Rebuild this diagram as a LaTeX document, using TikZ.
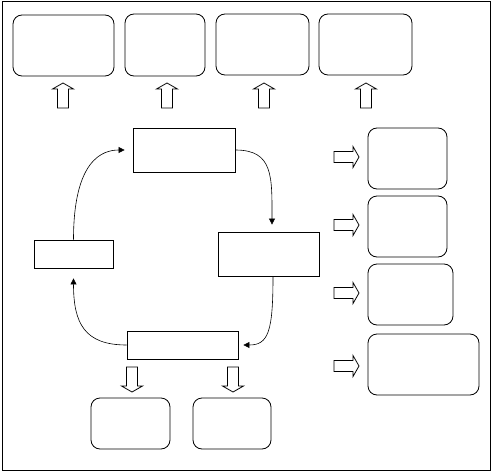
\documentclass[tikz,border=0pt]{standalone}
\usetikzlibrary{arrows.meta,calc}
\begin{document}
\begin{tikzpicture}[x=1pt,y=-1pt,line width=0.8pt,
  rbox/.style={draw,rounded corners=9pt,inner sep=0pt},
  sbox/.style={draw,inner sep=0pt},
  conn/.style={line width=0.6pt,-{Triangle[length=6pt,width=6pt]}},
  blkarrow/.style={draw,line width=0.8pt},
  blk/.pic={\draw[blkarrow] (-5.5,0) -- (-5.5,-19) -- (-10.5,-19) -- (0,-25) -- (10.5,-19) -- (5.5,-19) -- (5.5,0) -- cycle;}]
\useasboundingbox (0,0) rectangle (493,471);
\draw (2,1) rectangle (490,470);
% top boxes
\node[rbox,minimum width=101pt,minimum height=61pt] (T1) at (63.5,45.5) {};
\node[rbox,minimum width=80pt,minimum height=62pt] (T2) at (165,45) {};
\node[rbox,minimum width=93pt,minimum height=61pt] (T3) at (262.5,44.5) {};
\node[rbox,minimum width=93pt,minimum height=61pt] (T4) at (365.5,44.5) {};
% up arrows
\pic at (63,108) {blk};
\pic at (167,108) {blk};
\pic at (264,108) {blk};
\pic at (366,108) {blk};
% cycle boxes
\node[sbox,minimum width=102pt,minimum height=44pt] (C1) at (184,150) {};
\node[sbox,minimum width=101pt,minimum height=44pt] (C2) at (268.5,254) {};
\node[sbox,minimum width=111pt,minimum height=28pt] (C3) at (182.5,345) {};
\node[sbox,minimum width=79pt,minimum height=28pt] (C4) at (73.5,254) {};
% cycle connectors
\draw[conn,shorten >=8pt] (C4.north) .. controls +(0,-80) and +(-30,0) .. (C1.west);
\draw[conn,shorten >=7pt] (C1.east) .. controls +(38,0) and +(0,-55) .. ($(C2.north)+(3.5,0)$);
\draw[conn,shorten >=5pt] ($(C2.south)+(4.5,0)$) .. controls +(0,55) and +(30,0) .. (C3.east);
\draw[conn,shorten >=10pt] (C3.west) .. controls +(-42,0) and +(0,55) .. (C4.south);
% right arrows
\pic[rotate=-90] at (334,157) {blk};
\pic[rotate=-90] at (334,225) {blk};
\pic[rotate=-90] at (334,293) {blk};
\pic[rotate=-90] at (334,366) {blk};
% right boxes
\node[rbox,minimum width=79pt,minimum height=61pt] (R1) at (407.5,158.5) {};
\node[rbox,minimum width=79pt,minimum height=61pt] (R2) at (407.5,226.5) {};
\node[rbox,minimum width=85pt,minimum height=61pt] (R3) at (410.5,294.5) {};
\node[rbox,minimum width=111pt,minimum height=61pt] (R4) at (423.5,364.5) {};
% down arrows
\pic[rotate=180] at (132,367) {blk};
\pic[rotate=180] at (233,367) {blk};
% bottom boxes
\node[rbox,minimum width=79pt,minimum height=51pt] (B1) at (130.5,423.5) {};
\node[rbox,minimum width=78pt,minimum height=51pt] (B2) at (232,423.5) {};
\end{tikzpicture}
\end{document}
